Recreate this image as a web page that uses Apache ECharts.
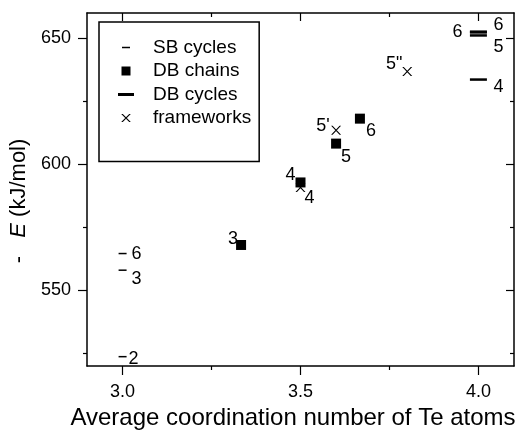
<!DOCTYPE html>
<html>
<head>
<meta charset="utf-8">
<script src="https://cdn.jsdelivr.net/npm/echarts@6/dist/echarts.min.js"></script>
<style>
  html, body { margin: 0; padding: 0; background: #fff; }
  #chart { width: 527px; height: 438px; }
</style>
</head>
<body>
<div id="chart"></div>
<script>
// data
var sbX = [3.0, 3.0, 3.0];
var sbY = [564.6, 558.0, 523.7];
var sbNames = ['6', '3', '2'];

var chainX = [3.333, 3.5, 3.6, 3.667];
var chainY = [568.0, 592.8, 608.2, 618.1];
var chainNames = ['3', '4', '5', '6'];

var dbcX = [4.0, 4.0, 4.0, 4.0];
var dbcY = [652.6, 652.3, 651.1, 633.6];
var dbcNames = ['6', '6', '5', '4'];

var fwX = [3.5, 3.6, 3.8];
var fwY = [590.8, 613.5, 636.8];
var fwNames = ['4', "5'", '5"'];

var xMajorTicks = [3.0, 3.5, 4.0];
var xMinorTicks = [3.25, 3.75];
var yMajorTicks = [550, 600, 650];
var yMinorTicks = [525, 575, 625];

// label placement (pixel offsets from the mark)
var sbLabelOffset = [[14, 0], [14, 9], [11, 2]];
var chainLabelOffset = [[-8, -6], [-10, -7], [10, 13], [11, 12]];
var dbcLabelOffset = [[-21, 0], [20, -7], [20, 12], [20, 7]];
var fwLabelOffset = [[9, 11], [-13, -4], [-13, -7]];

var FONT = 'Liberation Sans';

// X made of two thin bars, centred in a box of bw x bh
function crossPath(bw, bh, s, w) {
    var cx = bw / 2, cy = bh / 2;
    var p = 'path://M0,0M' + bw + ',' + bh;
    p += 'M' + (cx - s - w) + ',' + (cy - s) + 'L' + (cx - s + w) + ',' + (cy - s) +
         'L' + (cx + s + w) + ',' + (cy + s) + 'L' + (cx + s - w) + ',' + (cy + s) + 'Z';
    p += 'M' + (cx + s - w) + ',' + (cy - s) + 'L' + (cx + s + w) + ',' + (cy - s) +
         'L' + (cx - s + w) + ',' + (cy + s) + 'L' + (cx - s - w) + ',' + (cy + s) + 'Z';
    return p;
}
// filled rectangle w x h centred in a box of bw x bh
function rectPath(bw, bh, w, h) {
    var x0 = (bw - w) / 2, y0 = (bh - h) / 2;
    return 'path://M0,0M' + bw + ',' + bh + 'M' + x0 + ',' + y0 + 'L' + (x0 + w) + ',' + y0 +
        'L' + (x0 + w) + ',' + (y0 + h) + 'L' + x0 + ',' + (y0 + h) + 'Z';
}

var LW = 44, LH = 18;

function makeData(xs, ys, names, offsets) {
    return xs.map(function (x, i) {
        return {
            value: [x, ys[i]],
            label: { formatter: names[i], offset: offsets[i] }
        };
    });
}

function scatter(name, data, symbol, size) {
    return {
        name: name,
        type: 'scatter',
        xAxisIndex: 0,
        yAxisIndex: 0,
        symbol: symbol,
        symbolSize: size,
        itemStyle: { color: '#000', opacity: 1 },
        label: {
            show: true,
            position: 'inside',
            color: '#000',
            fontSize: 18,
            fontFamily: FONT
        },
        emphasis: { disabled: true },
        data: data
    };
}

function xAxis(pos, ticks, len, inside, showLine, showLabel, extra) {
    var a = {
        type: 'value', gridIndex: 0, position: pos, min: 2.9, max: 4.1,
        axisLine: { show: showLine, onZero: false, lineStyle: { color: '#000', width: 1.5 } },
        axisTick: { show: true, inside: inside, length: len, customValues: ticks,
            lineStyle: { color: '#000', width: 1.2 } },
        axisLabel: { show: showLabel, customValues: ticks, margin: 17, color: '#000',
            fontSize: 18, fontFamily: FONT,
            formatter: function (v) { return v.toFixed(1); } },
        splitLine: { show: false }
    };
    return Object.assign(a, extra || {});
}

function yAxis(pos, ticks, len, inside, showLine, showLabel, extra) {
    var a = {
        type: 'value', gridIndex: 0, position: pos, min: 520, max: 660,
        axisLine: { show: showLine, onZero: false, lineStyle: { color: '#000', width: 1.5 } },
        axisTick: { show: true, inside: inside, length: len, customValues: ticks,
            lineStyle: { color: '#000', width: 1.2 } },
        axisLabel: { show: showLabel, customValues: ticks, margin: 16, color: '#000',
            fontSize: 18, fontFamily: FONT },
        splitLine: { show: false }
    };
    return Object.assign(a, extra || {});
}

var chart = echarts.init(document.getElementById('chart'), null, { renderer: 'canvas' });

var option = {
    animation: false,
    backgroundColor: '#fff',
    grid: { left: 87, right: 13, top: 13, bottom: 72, containLabel: false, outerBoundsMode: 'none' },
    legend: {
        left: 99,
        top: 22,
        orient: 'vertical',
        selectedMode: false,
        itemWidth: LW,
        itemHeight: LH,
        itemGap: 4.5,
        padding: [16, 8, 34, 5],
        borderColor: '#000',
        borderWidth: 1.5,
        borderRadius: 0,
        textStyle: { color: '#000', fontSize: 19, fontFamily: FONT, lineHeight: 18 },
        data: [
            { name: 'SB cycles', icon: rectPath(LW, LH, 8, 1.5) },
            { name: 'DB chains', icon: rectPath(LW, LH, 9, 9) },
            { name: 'DB cycles', icon: rectPath(LW, LH, 16, 3) },
            { name: 'frameworks', icon: crossPath(LW, LH, 4, 0.8) }
        ]
    },
    xAxis: [
        xAxis('bottom', xMajorTicks, 9, false, true, true, {
            name: 'Average coordination number of Te atoms',
            nameLocation: 'middle',
            nameGap: 37,
            nameTextStyle: { color: '#000', fontSize: 24, fontFamily: FONT, padding: [0, 15, 0, 0] }
        }),
        xAxis('bottom', xMinorTicks, 4, false, false, false),
        xAxis('top', xMajorTicks, 8, true, true, false),
        xAxis('top', xMinorTicks, 4, true, false, false)
    ],
    yAxis: [
        yAxis('left', yMajorTicks, 9, false, true, true, {
            name: '-   {i|E} (kJ/mol)',
            nameLocation: 'middle',
            nameGap: 54,
            nameRotate: 90,
            nameTextStyle: {
                color: '#000', fontSize: 22, fontFamily: FONT, padding: [0, 23, 0, 0],
                rich: { i: { fontStyle: 'italic', fontSize: 22, fontFamily: FONT, color: '#000' } }
            }
        }),
        yAxis('left', yMinorTicks, 4, false, false, false),
        yAxis('right', yMajorTicks, 8, true, true, false),
        yAxis('right', yMinorTicks, 4, true, false, false)
    ],
    series: [
        scatter('SB cycles', makeData(sbX, sbY, sbNames, sbLabelOffset), 'rect', [8, 1.5]),
        scatter('DB chains', makeData(chainX, chainY, chainNames, chainLabelOffset), 'rect', [10, 10]),
        scatter('DB cycles', makeData(dbcX, dbcY, dbcNames, dbcLabelOffset), 'rect', [17, 2.5]),
        scatter('frameworks', makeData(fwX, fwY, fwNames, fwLabelOffset), crossPath(10, 10, 4.5, 0.8), 10)
    ]
};

chart.setOption(option);
</script>
</body>
</html>
